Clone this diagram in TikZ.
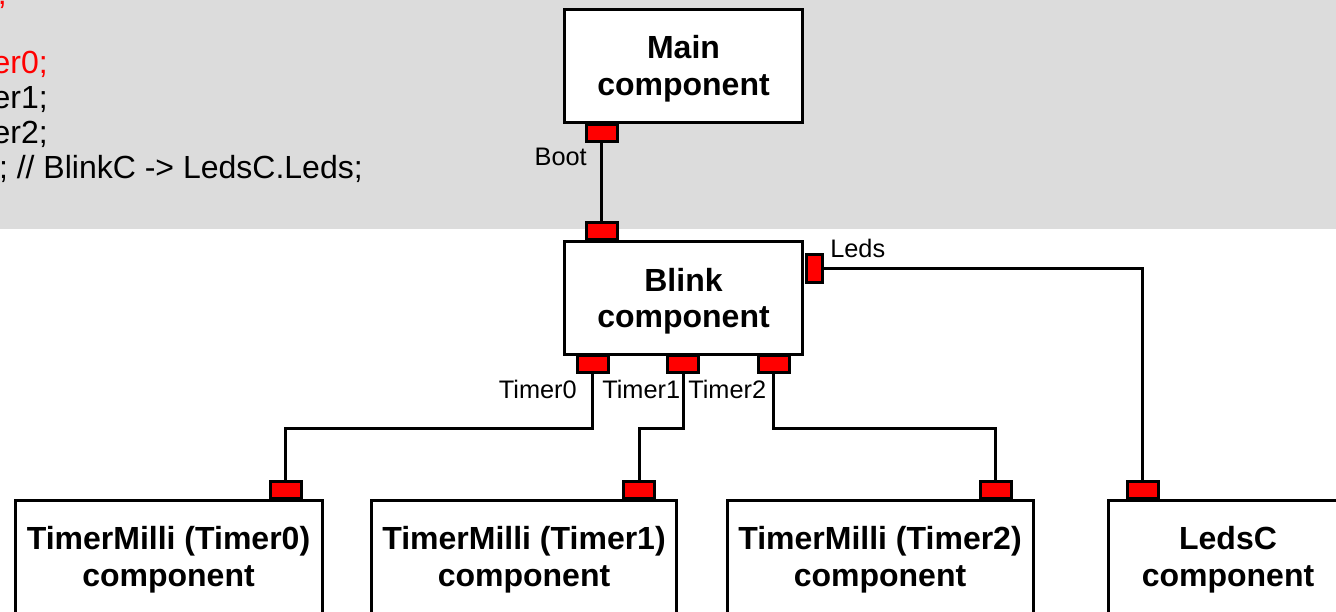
\documentclass[tikz,border=0pt]{standalone}
\usepackage{fontspec}
\setmainfont{Liberation Sans}
\definecolor{bggray}{RGB}{220,220,220}
\definecolor{portred}{RGB}{255,0,0}
\tikzset{
  comp/.style={draw=black, line width=2.25pt, fill=white, align=center,
    font=\fontsize{24pt}{27.5pt}\selectfont\bfseries, inner sep=0pt,
    text depth=0pt, minimum height=84.75pt},
  porth/.style={draw=black, fill=portred, line width=2.25pt,
    minimum width=23.25pt, minimum height=12.75pt, inner sep=0pt, outer sep=0pt},
  portv/.style={draw=black, fill=portred, line width=2.25pt,
    minimum width=12pt, minimum height=21pt, inner sep=0pt, outer sep=0pt},
  plabel/.style={font=\fontsize{19pt}{22pt}\selectfont, inner sep=0pt},
  codetext/.style={font=\fontsize{24pt}{28pt}\selectfont, inner sep=0pt, anchor=base east},
  wire/.style={line width=2.25pt, draw=black}
}
\begin{document}
\begin{tikzpicture}[x=0.75pt,y=-0.75pt]
\useasboundingbox (0,0) rectangle (1336,611);
\clip (0,0) rectangle (1336,611);
\fill[bggray] (0,0) rectangle (1336,228.5);

% code fragments
\node[codetext, text=portred] (c0) at (7,4) {;};
\node[codetext, text=portred] (c1) at (48,73) {er0;};
\node[codetext] (c2) at (48,108) {er1;};
\node[codetext] (c3) at (48,143) {er2;};
\node[codetext] (c4) at (363,178) {; // BlinkC -> LedsC.Leds;};

% components
\node[comp, minimum width=178.5pt] (main) at (683.5,65.5) {Main\\component};
\node[comp, minimum width=178.5pt] (blink) at (683.5,298) {Blink\\component};
\node[comp, minimum width=230.25pt] (tm0) at (168.5,556.5) {TimerMilli (Timer0)\\component};
\node[comp, minimum width=228.75pt] (tm1) at (524,556.5) {TimerMilli (Timer1)\\component};
\node[comp, minimum width=229.5pt] (tm2) at (880,556.5) {TimerMilli (Timer2)\\component};
\node[comp, minimum width=180pt] (leds) at (1228,556.5) {LedsC\\component};

% ports
\node[porth] (pboot) at (601.5,133) {};
\node[porth] (pbtop) at (601.5,231) {};
\node[portv] (pleds) at (814.5,268) {};
\node[porth] (pt0) at (592.5,364) {};
\node[porth] (pt1) at (683,364) {};
\node[porth] (pt2) at (773.5,364) {};
\node[porth] (q0) at (285.5,489.5) {};
\node[porth] (q1) at (639,489.5) {};
\node[porth] (q2) at (995.5,489.5) {};
\node[porth] (q3) at (1142.5,490) {};

% connectors
\coordinate (bus) at (0,428);
\draw[wire] (pboot.south) -- (pbtop.north);
\draw[wire] (pt0.south) -- (pt0.south |- bus) -| (q0.north);
\draw[wire] (pt1.south) -- (pt1.south |- bus) -| (q1.north);
\draw[wire] (pt2.south) -- (pt2.south |- bus) -| (q2.north);
\draw[wire] (pleds.east) -| (q3.north);

% labels
\node[plabel, anchor=base east] (lboot) at (587,165) {Boot};
\node[plabel, anchor=base west] (lleds) at (830,257) {Leds};
\node[plabel, anchor=base east] (lt0) at (577,398) {Timer0};
\node[plabel, anchor=base west] (lt1) at (602,398) {Timer1};
\node[plabel, anchor=base west] (lt2) at (688,398) {Timer2};
\end{tikzpicture}
\end{document}
